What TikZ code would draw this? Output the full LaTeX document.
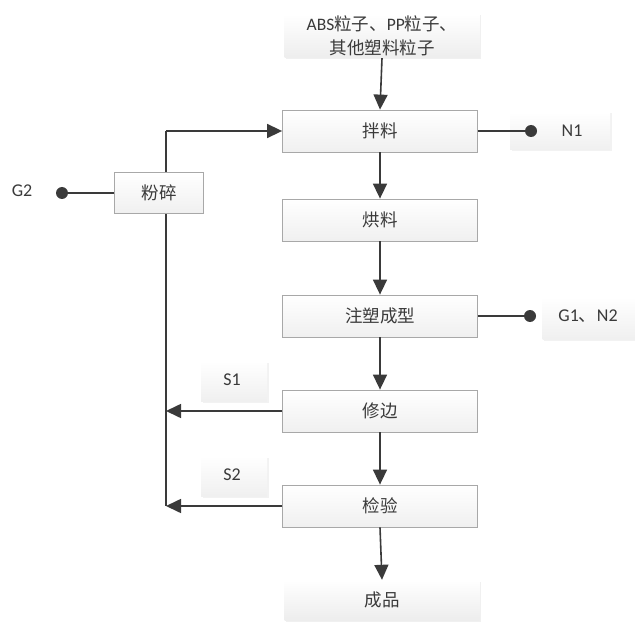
\documentclass[tikz,border=0pt]{standalone}
\usepackage{fontspec}
\setmainfont{Carlito}
\newfontfamily\cjk{Noto Sans CJK SC}
\usetikzlibrary{arrows.meta,shadows}
\definecolor{ink}{HTML}{3A3A3A}
\definecolor{edge}{HTML}{A8A8A8}
\tikzset{
  procbox/.style={draw=edge, line width=0.8pt, top color=white, bottom color=gray!12,
    minimum width=195pt, minimum height=42pt, inner sep=0pt, text=ink, font=\cjk\fontsize{17.5}{20}\selectfont},
  plainbox/.style={top color=white, bottom color=gray!14,
    drop shadow={opacity=0.12, shadow xshift=1.5pt, shadow yshift=-1.5pt},
    minimum width=195pt, minimum height=44pt, inner sep=0pt, text=ink, font=\cjk\fontsize{17.5}{24}\selectfont, align=center},
  tagbox/.style={top color=white, bottom color=gray!12,
    drop shadow={opacity=0.10, shadow xshift=1.5pt, shadow yshift=-1.5pt},
    inner sep=0pt, text=ink},
  tagtext/.style={text=ink, font=\fontsize{18}{20}\selectfont, inner sep=0pt},
  flow/.style={draw=ink, line width=1.6pt, -{Triangle[length=15pt,width=14pt]}},
  wire/.style={draw=ink, line width=1.6pt},
  dotend/.style={circle, fill=ink, minimum size=12pt, inner sep=0pt},
}
\begin{document}
\begin{tikzpicture}[x=1pt,y=-1pt]
\useasboundingbox (0,0) rectangle (635,623);
% label backgrounds
\node[tagbox, minimum width=100pt, minimum height=38pt] (n1bg) at (560,131) {};
\node[tagbox, minimum width=93pt, minimum height=42pt] (g1bg) at (589,318) {};
\node[tagbox, minimum width=66pt, minimum height=40pt] (s1bg) at (234,381) {};
\node[tagbox, minimum width=66pt, minimum height=40pt] (s2bg) at (234,476) {};
% main column
\node[plainbox] (src) at (382,36) {\fontspec{Carlito}ABS{\cjk 粒子、}PP{\cjk 粒子、}\\{\cjk 其他塑料粒子}};
\node[procbox] (bl) at (380,131) {拌料};
\node[procbox] (hl) at (380,220) {烘料};
\node[procbox] (zs) at (380,316) {注塑成型};
\node[procbox] (xb) at (380,411) {修边};
\node[procbox] (jy) at (380,506) {检验};
\node[plainbox, minimum height=40pt] (cp) at (382,600) {成品};
% left recycle line
\coordinate (top) at (166,131);
\coordinate (s1e) at (166,411);
\coordinate (s2e) at (166,506);
\draw[wire] (top) -- (s2e);
\draw[flow] (top) -- (bl.west);
\node[procbox, minimum width=89pt, minimum height=41pt] (fs) at (159,193) {粉碎};
% flows
\draw[flow] (src.south) -- (bl.north);
\draw[flow] (bl.south) -- (hl.north);
\draw[flow] (hl.south) -- (zs.north);
\draw[flow] (zs.south) -- (xb.north);
\draw[flow] (xb.south) -- (jy.north);
\draw[flow] (jy.south) -- (cp.north);
\draw[flow] (xb.west) -- (s1e);
\draw[flow] (jy.west) -- (s2e);
% emission points
\node[dotend] (dn1) at (531,131) {};
\node[dotend] (dg1) at (530,316) {};
\node[dotend] (dg2) at (62,193) {};
\draw[wire] (bl.east) -- (dn1.center);
\draw[wire] (zs.east) -- (dg1.center);
\draw[wire] (fs.west) -- (dg2.center);
% labels
\node[tagtext] (n1) at (572,131) {N1};
\node[tagtext] (g1) at (588,316) {G1{\cjk 、}N2};
\node[tagtext] (g2) at (22,191) {G2};
\node[tagtext] (s1) at (232,380) {S1};
\node[tagtext] (s2) at (232,475) {S2};
\end{tikzpicture}
\end{document}
